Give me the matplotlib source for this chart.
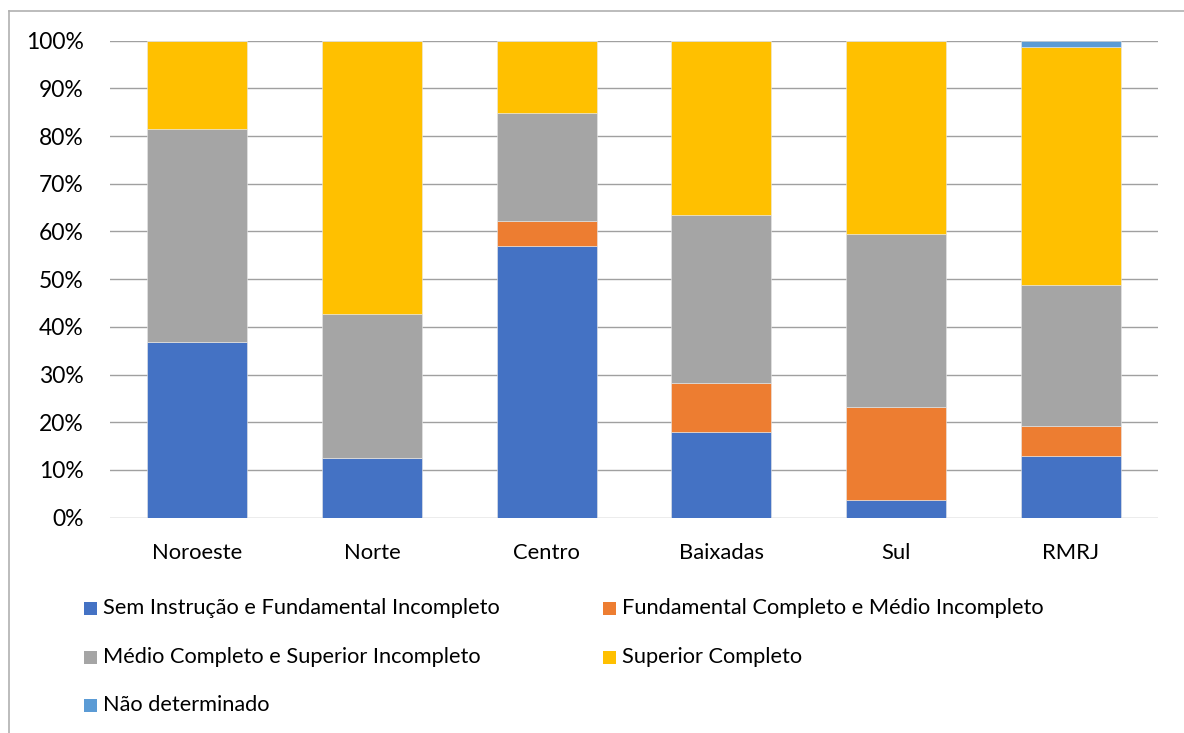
import matplotlib
matplotlib.use("Agg")
import matplotlib.pyplot as plt
from matplotlib.patches import Rectangle
from matplotlib.lines import Line2D
from matplotlib.ticker import MultipleLocator, FuncFormatter

plt.rcParams['font.family'] = ['Lato', 'DejaVu Sans']

regions = ["Noroeste", "Norte", "Centro", "Baixadas", "Sul", "RMRJ"]
series_names = [
    "Sem Instrução e Fundamental Incompleto",
    "Fundamental Completo e Médio Incompleto",
    "Médio Completo e Superior Incompleto",
    "Superior Completo",
    "Não determinado",
]
sem_instrucao = [36.9, 12.6, 57.0, 17.9, 3.8, 13.0]
fundamental_completo = [0.0, 0.0, 5.1, 10.4, 19.5, 6.3]
medio_completo = [44.6, 30.0, 22.7, 35.1, 36.1, 29.5]
superior_completo = [18.5, 57.4, 15.2, 36.6, 40.6, 49.9]
nao_determinado = [0.0, 0.0, 0.0, 0.0, 0.0, 1.3]

colors = ["#4472C4", "#ED7D31", "#A5A5A5", "#FFC000", "#5B9BD5"]

W, H = 1184, 733
fig = plt.figure(figsize=(W / 100, H / 100), dpi=100)
fig.patch.set_facecolor("white")

ax = fig.add_axes([110 / W, (H - 517.7) / H, 1048 / W, 477 / H])

all_series = [sem_instrucao, fundamental_completo, medio_completo,
              superior_completo, nao_determinado]
x = list(range(len(regions)))
bottom = [0.0] * len(regions)
for vals, c in zip(all_series, colors):
    ax.bar(x, vals, bottom=bottom, width=0.572, color=c,
           edgecolor="#e8e8e8", linewidth=0.4, zorder=3)
    bottom = [b + v for b, v in zip(bottom, vals)]

ax.set_xlim(-0.5, len(regions) - 0.5)
ax.set_ylim(0, 100)
ax.yaxis.set_major_locator(MultipleLocator(10))
ax.yaxis.set_major_formatter(FuncFormatter(lambda v, p: f"{v:.0f}%"))
ax.grid(axis="y", color="#A0A0A0", linewidth=1.0, zorder=0)
for s in ax.spines.values():
    s.set_visible(False)
ax.tick_params(axis="both", length=0, colors="black")
ax.tick_params(axis="y", pad=19, labelsize=16.5)
ax.tick_params(axis="x", pad=18, labelsize=15.8)
ax.set_xticks(x)
ax.set_xticklabels(regions)

# Legend laid out in two columns, row by row
col_x = [84, 603]
row_y = [608, 657, 705]
sq = 13
for i, (name, c) in enumerate(zip(series_names, colors)):
    cx = col_x[i % 2]
    cy = row_y[i // 2]
    fig.add_artist(Rectangle((cx / W, (H - cy - sq / 2) / H), sq / W, sq / H,
                             transform=fig.transFigure, facecolor=c,
                             edgecolor="none"))
    fig.text((cx + sq + 6) / W, (H - cy) / H, name, fontsize=15.7,
             va="center", ha="left", color="black")

# Chart frame (top and left edges)
fig.add_artist(Line2D([9 / W, 1.0], [(H - 11) / H, (H - 11) / H],
                      transform=fig.transFigure, color="#B0B0B0", linewidth=1.2))
fig.add_artist(Line2D([9 / W, 9 / W], [0, (H - 11) / H],
                      transform=fig.transFigure, color="#B0B0B0", linewidth=1.2))

fig.savefig("out.png", dpi=100, facecolor="white")
